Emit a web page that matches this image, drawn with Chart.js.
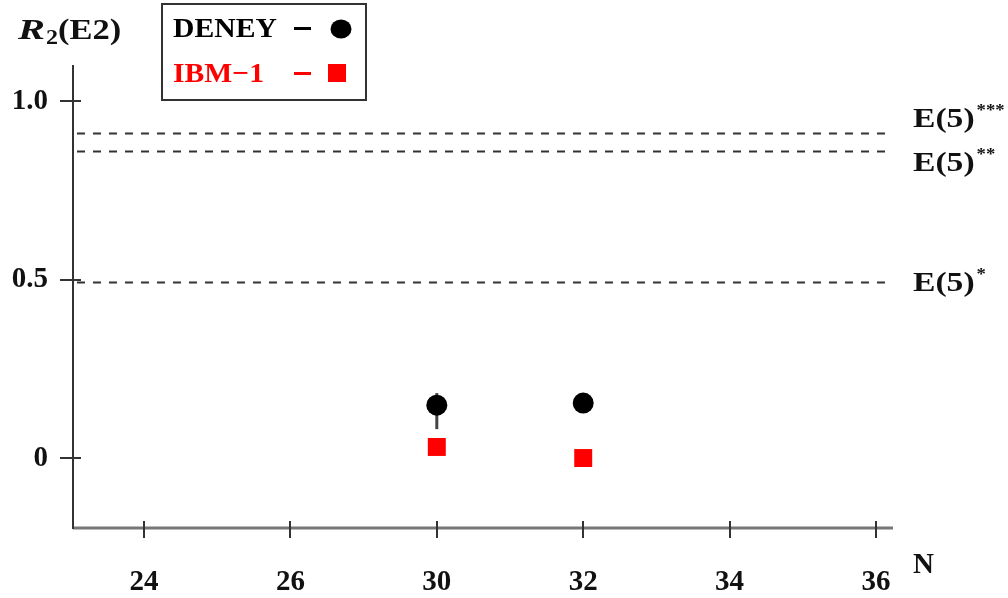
<!DOCTYPE html>
<html>
<head>
<meta charset="utf-8">
<script src="https://cdn.jsdelivr.net/npm/chart.js@4.4.0/dist/chart.umd.min.js"></script>
<style>
  html, body { margin: 0; padding: 0; background: #fff; }
  canvas { display: block; }
</style>
</head>
<body>
<canvas id="c" width="1008" height="598"></canvas>
<script>
// Neutron number axis: ticks are evenly spaced slots with these labels
const nTickLabels = ['24', '26', '30', '32', '34', '36'];
const nSlots = [2, 3];                 // slots of N = 30 and N = 32

// R2(E2) values
const deneyR2 = [0.148, 0.154];
const deneyErrLow = [0.081, null];
const deneyErrHigh = [0.182, null];
const ibmR2 = [0.031, 0.0];

// E(5) limit values
const limitNames = ['E(5)', 'E(5)', 'E(5)'];
const limitStars = ['***', '**', '*'];
const limitValues = [0.910, 0.860, 0.493];

// y axis ticks
const yTickValues = [0, 0.5, 1.0];
const yTickLabels = ['0', '0.5', '1.0'];

const SERIF = '"Liberation Serif", "Times New Roman", serif';
const INK = '#111';

function stretchedText(ctx, text, x, y, font, color, sx, align) {
  ctx.save();
  ctx.font = font;
  ctx.fillStyle = color;
  ctx.textBaseline = 'alphabetic';
  ctx.textAlign = 'left';
  const w = ctx.measureText(text).width * sx;
  const x0 = align === 'right' ? x - w : x;
  ctx.translate(x0, y);
  ctx.scale(sx, 1);
  ctx.fillText(text, 0, 0);
  ctx.restore();
  return w;
}

const decorations = {
  id: 'decorations',
  beforeDatasetsDraw(chart) {
    const ctx = chart.ctx;
    const xs = chart.scales.x, ys = chart.scales.y;
    const L = chart.chartArea.left, R = chart.chartArea.right;
    const T = chart.chartArea.top, B = chart.chartArea.bottom;
    ctx.save();

    // dashed E(5) limit lines
    ctx.strokeStyle = '#333';
    ctx.lineWidth = 2;
    ctx.setLineDash([8, 8]);
    limitValues.forEach(v => {
      const y = Math.round(ys.getPixelForValue(v)) + 0.5;
      ctx.beginPath();
      ctx.moveTo(L + 4, y);
      ctx.lineTo(R - 3, y);
      ctx.stroke();
    });
    ctx.setLineDash([]);

    // x axis line
    ctx.strokeStyle = '#777';
    ctx.lineWidth = 3;
    ctx.beginPath();
    ctx.moveTo(L, B);
    ctx.lineTo(R, B);
    ctx.stroke();

    // y axis line
    ctx.strokeStyle = '#333';
    ctx.lineWidth = 2;
    ctx.beginPath();
    ctx.moveTo(L, T);
    ctx.lineTo(L, B + 1);
    ctx.stroke();

    // y tick marks crossing the axis
    yTickValues.forEach(v => {
      const y = Math.round(ys.getPixelForValue(v));
      ctx.beginPath();
      ctx.moveTo(L - 13, y);
      ctx.lineTo(L + 8, y);
      ctx.stroke();
    });

    // x tick marks crossing the axis
    nTickLabels.forEach((_, i) => {
      const x = Math.round(xs.getPixelForValue(i));
      ctx.beginPath();
      ctx.moveTo(x, B - 7);
      ctx.lineTo(x, B + 10);
      ctx.stroke();
    });

    // error bars on DENEY points
    ctx.strokeStyle = '#444';
    ctx.lineWidth = 3;
    nSlots.forEach((s, i) => {
      if (deneyErrLow[i] == null) return;
      const x = xs.getPixelForValue(s);
      ctx.beginPath();
      ctx.moveTo(x, ys.getPixelForValue(deneyErrHigh[i]));
      ctx.lineTo(x, ys.getPixelForValue(deneyErrLow[i]));
      ctx.stroke();
    });
    ctx.restore();
  },
  afterDraw(chart) {
    const ctx = chart.ctx;
    const xs = chart.scales.x, ys = chart.scales.y;
    const R = chart.chartArea.right, B = chart.chartArea.bottom;

    // axis title R2(E2)
    let x = 18;
    x += stretchedText(ctx, 'R', x, 39, 'italic bold 30px ' + SERIF, INK, 1.35);
    x += stretchedText(ctx, '2', x + 1, 44, 'bold 20px ' + SERIF, INK, 1.2) + 1;
    stretchedText(ctx, '(E2)', x, 39, 'bold 30px ' + SERIF, INK, 1.15);

    // N label
    stretchedText(ctx, 'N', R + 20, B + 45, 'bold 29px ' + SERIF, INK, 1.0);

    // E(5) labels next to the dashed lines
    const offsets = [-6, 20, 9];
    limitValues.forEach((v, i) => {
      const y = ys.getPixelForValue(v) + offsets[i];
      const w = stretchedText(ctx, limitNames[i], R + 20, y, 'bold 28px ' + SERIF, INK, 1.2);
      stretchedText(ctx, limitStars[i], R + 20 + w + 2, y - 12, 'bold 17px ' + SERIF, INK, 1.1);
    });

    // legend box
    ctx.save();
    ctx.strokeStyle = '#333';
    ctx.lineWidth = 2;
    ctx.strokeRect(162, 4, 204, 96);
    const sets = chart.data.datasets;
    const rows = [37, 82];
    sets.forEach((ds, i) => {
      const y = rows[i];
      const col = ds.backgroundColor;
      stretchedText(ctx, ds.label, 173, y, 'bold 28px ' + SERIF, col, 1.06);
      ctx.fillStyle = col;
      ctx.fillRect(294, y - 10, 17, 3);
      if (ds.pointStyle === 'circle') {
        ctx.beginPath();
        ctx.ellipse(341, y - 8, 10.5, 9.5, 0, 0, Math.PI * 2);
        ctx.fill();
      } else {
        ctx.fillRect(328, y - 18, 18, 18);
      }
    });
    ctx.restore();
  }
};

new Chart(document.getElementById('c'), {
  type: 'scatter',
  data: {
    datasets: [
      {
        label: 'DENEY',
        data: nSlots.map((s, i) => ({ x: s, y: deneyR2[i] })),
        pointStyle: 'circle',
        pointRadius: 10.5,
        backgroundColor: '#000',
        borderColor: '#000',
        borderWidth: 0
      },
      {
        label: 'IBM\u22121',
        data: nSlots.map((s, i) => ({ x: s, y: ibmR2[i] })),
        pointStyle: 'rect',
        pointRadius: 12.7,
        backgroundColor: '#ff0000',
        borderColor: '#ff0000',
        borderWidth: 0
      }
    ]
  },
  options: {
    responsive: false,
    animation: false,
    devicePixelRatio: 1,
    layout: { padding: { left: 0, right: 115, top: 65, bottom: 0 } },
    plugins: { legend: { display: false }, tooltip: { enabled: false } },
    scales: {
      x: {
        type: 'linear',
        min: -0.485,
        max: 5.116,
        afterBuildTicks: s => { s.ticks = nTickLabels.map((_, i) => ({ value: i })); },
        afterFit: s => { s.height = 70; },
        grid: { display: false, drawTicks: false },
        border: { display: false },
        ticks: {
          autoSkip: false,
          maxRotation: 0,
          padding: 37,
          color: INK,
          font: { family: SERIF, size: 29, weight: 'bold' },
          callback: v => nTickLabels[v]
        }
      },
      y: {
        type: 'linear',
        min: -0.196,
        max: 1.101,
        afterBuildTicks: s => { s.ticks = yTickValues.map(v => ({ value: v })); },
        afterFit: s => { s.width = 73; },
        grid: { display: false, drawTicks: false },
        border: { display: false },
        ticks: {
          padding: 25,
          color: INK,
          font: { family: SERIF, size: 29, weight: 'bold' },
          callback: (v, i) => yTickLabels[i]
        }
      }
    }
  },
  plugins: [decorations]
});
</script>
</body>
</html>
